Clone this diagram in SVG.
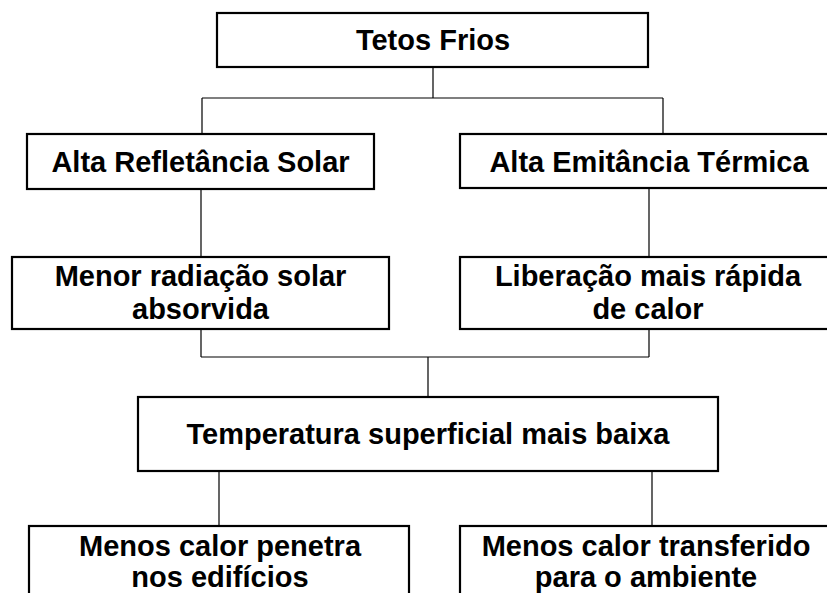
<svg xmlns="http://www.w3.org/2000/svg" width="827" height="593" viewBox="0 0 827 593">
<style>
.box{fill:#fff;stroke:#000;stroke-width:2.2}
.t{font-family:"Liberation Sans",Arial,sans-serif;font-weight:bold;font-size:29px;fill:#000;text-anchor:middle}
.c{fill:none;stroke:#000;stroke-width:1.2}
</style>
<rect width="827" height="593" fill="#fff"/>
<g id="connectors">
<path class="c" d="M433 67V98M202 98H663M202 98V134M663 98V134"/>
<path class="c" d="M201 189V257M649 188V257"/>
<path class="c" d="M201 329V357M649 329V357M201 357H649M428 357V397"/>
<path class="c" d="M219 471V526M652 471V526"/>
</g>
<g id="tetos">
<rect class="box" x="217" y="13" width="431" height="54"/>
<text class="t" x="433" y="50">Tetos Frios</text>
</g>
<g id="refletancia">
<rect class="box" x="27" y="134" width="347" height="55"/>
<text class="t" x="200.5" y="172">Alta Refletância Solar</text>
</g>
<g id="emitancia">
<rect class="box" x="460" y="134" width="380" height="54"/>
<text class="t" x="649" y="172">Alta Emitância Térmica</text>
</g>
<g id="radiacao">
<rect class="box" x="12" y="257" width="377" height="72"/>
<text class="t" x="200.5" y="286">Menor radiação solar</text>
<text class="t" x="200.5" y="319">absorvida</text>
</g>
<g id="liberacao">
<rect class="box" x="460" y="257" width="380" height="72"/>
<text class="t" x="648" y="286">Liberação mais rápida</text>
<text class="t" x="648" y="319">de calor</text>
</g>
<g id="temperatura">
<rect class="box" x="138" y="397" width="580" height="74"/>
<text class="t" x="428" y="444">Temperatura superficial mais baixa</text>
</g>
<g id="penetra">
<rect class="box" x="29" y="526" width="380" height="80"/>
<text class="t" x="220" y="556">Menos calor penetra</text>
<text class="t" x="220" y="587">nos edifícios</text>
</g>
<g id="transferido">
<rect class="box" x="460" y="526" width="380" height="80"/>
<text class="t" x="646" y="556">Menos calor transferido</text>
<text class="t" x="646" y="587">para o ambiente</text>
</g>
</svg>
